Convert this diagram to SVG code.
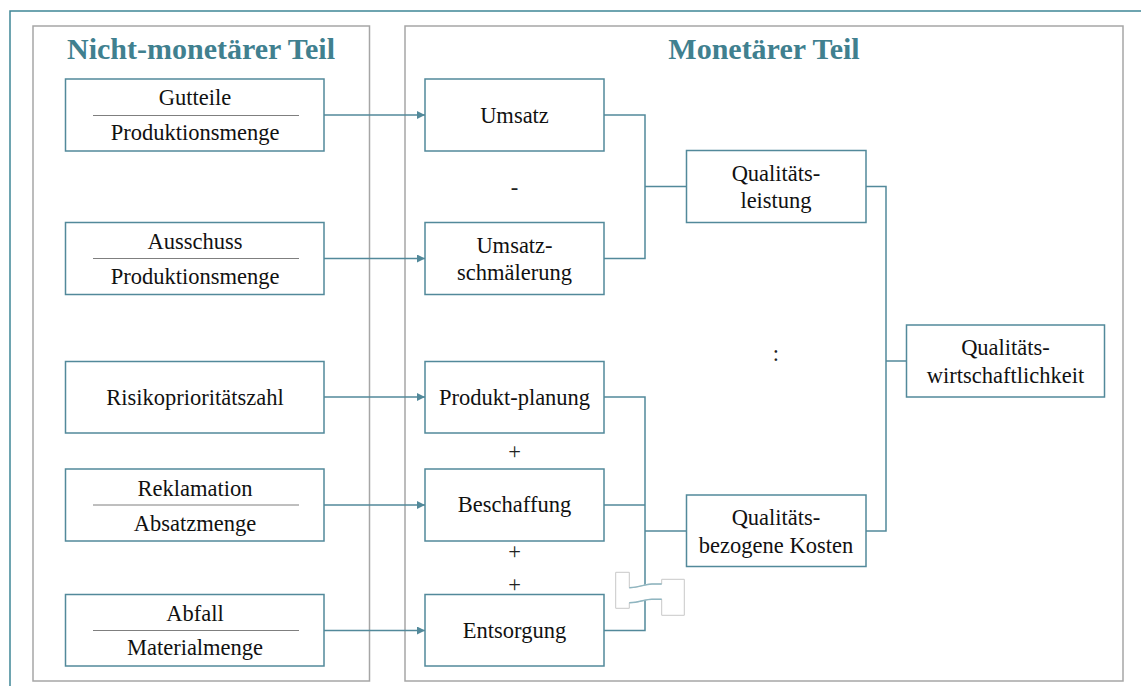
<svg xmlns="http://www.w3.org/2000/svg" width="1141" height="686" viewBox="0 0 1141 686">
  <style>
    .frame { fill: none; stroke: #3f8797; stroke-width: 1.5; }
    .panel { fill: #ffffff; stroke: #a6a6a6; stroke-width: 1.5; }
    .box { fill: #ffffff; stroke: #52899a; stroke-width: 1.5; }
    .rule { stroke: #7f7f7f; stroke-width: 1; }
    .link { fill: none; stroke: #52899a; stroke-width: 1.5; }
    .head { font-family: "Liberation Serif", "Times New Roman", serif; font-weight: bold; font-size: 30px; fill: #40808f; text-anchor: middle; }
    .txt { font-family: "Liberation Serif", "Times New Roman", serif; font-size: 22.5px; fill: #111111; text-anchor: middle; }
    .op { font-family: "Liberation Serif", "Times New Roman", serif; font-size: 22.5px; fill: #222222; text-anchor: middle; }
  </style>
  <defs>
    <marker id="arrow" viewBox="0 0 10 10" refX="10" refY="5" markerWidth="8" markerHeight="8" markerUnits="userSpaceOnUse" orient="auto">
      <path d="M0,0 L10,5 L0,10 Z" fill="#52899a"/>
    </marker>
  </defs>

  <rect width="1141" height="686" fill="#ffffff"/>

  <!-- outer frame -->
  <path class="frame" d="M10,686 V11 H1141"/>

  <!-- panels -->
  <g id="panel-nonmonetary">
    <rect class="panel" x="33" y="26" width="336.5" height="655"/>
    <text class="head" x="201" y="59">Nicht-monetärer Teil</text>
  </g>
  <g id="panel-monetary">
    <rect class="panel" x="405" y="26" width="718" height="655"/>
    <text class="head" x="764" y="59">Monetärer Teil</text>
  </g>

  <!-- connectors -->
  <g id="connectors">
    <line class="link" x1="324" y1="115" x2="425" y2="115" marker-end="url(#arrow)"/>
    <line class="link" x1="324" y1="258.5" x2="425" y2="258.5" marker-end="url(#arrow)"/>
    <line class="link" x1="324" y1="397" x2="425" y2="397" marker-end="url(#arrow)"/>
    <line class="link" x1="324" y1="505" x2="425" y2="505" marker-end="url(#arrow)"/>
    <line class="link" x1="324" y1="630.5" x2="425" y2="630.5" marker-end="url(#arrow)"/>

    <path class="link" d="M604,115 H645 V258.5 H604"/>
    <line class="link" x1="645" y1="186.5" x2="686.5" y2="186.5"/>

    <path class="link" d="M604,397 H645 V630.5 H604"/>
    <line class="link" x1="604" y1="505" x2="645" y2="505"/>
    <line class="link" x1="645" y1="531" x2="686.5" y2="531"/>

    <path class="link" d="M866,186.5 H886 V531 H866"/>
    <line class="link" x1="886" y1="361" x2="906.5" y2="361"/>

    <!-- break marker on the cost line -->
    <path d="M615.7,572.3 H629.3 V587.7 C640,587.7 644,584 652,584 H661.7 V579.3 H684.3 V615.3 H661.7 V599.3 H652 C644,599.3 640,602.7 629.3,602.7 V608.3 H615.7 Z" fill="#ffffff" stroke="#c8c8c8" stroke-width="1"/>
    <path d="M629.3,587.7 C640,587.7 644,584 652,584 H661.7 M629.3,602.7 C640,602.7 644,599.3 652,599.3 H661.7" fill="none" stroke="#8fb6c1" stroke-width="1.5"/>
  </g>

  <!-- non-monetary indicators -->
  <g id="node-gutteile">
    <rect class="box" x="65.5" y="79" width="258.5" height="72"/>
    <text class="txt" x="195" y="105">Gutteile</text>
    <line class="rule" x1="93" y1="115.5" x2="299" y2="115.5"/>
    <text class="txt" x="195" y="140">Produktionsmenge</text>
  </g>
  <g id="node-ausschuss">
    <rect class="box" x="65.5" y="222.5" width="258.5" height="72"/>
    <text class="txt" x="195" y="249">Ausschuss</text>
    <line class="rule" x1="93" y1="258.5" x2="299" y2="258.5"/>
    <text class="txt" x="195" y="284">Produktionsmenge</text>
  </g>
  <g id="node-rpz">
    <rect class="box" x="65.5" y="361.5" width="258.5" height="71.5"/>
    <text class="txt" x="195" y="405">Risikoprioritätszahl</text>
  </g>
  <g id="node-reklamation">
    <rect class="box" x="65.5" y="469" width="258.5" height="72"/>
    <text class="txt" x="195" y="496">Reklamation</text>
    <line class="rule" x1="93" y1="505" x2="299" y2="505"/>
    <text class="txt" x="195" y="531">Absatzmenge</text>
  </g>
  <g id="node-abfall">
    <rect class="box" x="65.5" y="594.5" width="258.5" height="71.5"/>
    <text class="txt" x="195" y="621">Abfall</text>
    <line class="rule" x1="93" y1="630.5" x2="299" y2="630.5"/>
    <text class="txt" x="195" y="655">Materialmenge</text>
  </g>

  <!-- monetary components -->
  <g id="node-umsatz">
    <rect class="box" x="425" y="79" width="179" height="72"/>
    <text class="txt" x="514.5" y="123">Umsatz</text>
  </g>
  <g id="node-umsatzschmaelerung">
    <rect class="box" x="425" y="222.5" width="179" height="72"/>
    <text class="txt" x="514.5" y="253">Umsatz-</text>
    <text class="txt" x="514.5" y="280">schmälerung</text>
  </g>
  <g id="node-produktplanung">
    <rect class="box" x="425" y="361.5" width="179" height="71.5"/>
    <text class="txt" x="514.5" y="405">Produkt-planung</text>
  </g>
  <g id="node-beschaffung">
    <rect class="box" x="425" y="469" width="179" height="72"/>
    <text class="txt" x="514.5" y="512">Beschaffung</text>
  </g>
  <g id="node-entsorgung">
    <rect class="box" x="425" y="594.5" width="179" height="71.5"/>
    <text class="txt" x="514.5" y="638">Entsorgung</text>
  </g>

  <g id="node-qualitaetsleistung">
    <rect class="box" x="686.5" y="150.5" width="179.5" height="72"/>
    <text class="txt" x="776" y="181">Qualitäts-</text>
    <text class="txt" x="776" y="208">leistung</text>
  </g>
  <g id="node-qualitaetskosten">
    <rect class="box" x="686.5" y="495" width="179.5" height="71.5"/>
    <text class="txt" x="776" y="525">Qualitäts-</text>
    <text class="txt" x="776" y="552.5">bezogene Kosten</text>
  </g>
  <g id="node-qualitaetswirtschaftlichkeit">
    <rect class="box" x="906.5" y="325" width="198" height="72"/>
    <text class="txt" x="1005.5" y="355">Qualitäts-</text>
    <text class="txt" x="1005.5" y="382.5">wirtschaftlichkeit</text>
  </g>

  <!-- operators -->
  <g id="operators">
    <text class="op" x="514.5" y="195">-</text>
    <text class="op" x="514.5" y="459">+</text>
    <text class="op" x="514.5" y="559">+</text>
    <text class="op" x="514.5" y="592">+</text>
    <text class="op" x="776" y="361">:</text>
  </g>
</svg>
